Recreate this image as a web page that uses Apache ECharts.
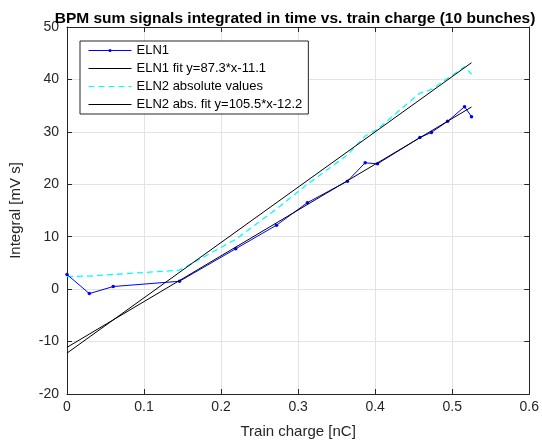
<!DOCTYPE html>
<html>
<head>
<meta charset="utf-8">
<script src="https://cdn.jsdelivr.net/npm/echarts@6/dist/echarts.min.js"></script>
<style>
  html, body { margin: 0; padding: 0; background: #fff; }
  #chart { width: 542px; height: 444px; }
</style>
</head>
<body>
<div id="chart"></div>
<script>
// train charge [nC]
const chargeX = [0, 0.029, 0.060, 0.146, 0.219, 0.272, 0.312, 0.364, 0.387, 0.403, 0.458, 0.473, 0.494, 0.516, 0.525];
// ELN1 integral [mV s]
const eln1Y = [2.8, -0.85, 0.5, 1.5, 7.7, 12.2, 16.5, 20.6, 24.1, 23.9, 28.9, 29.9, 32.0, 34.8, 32.9];
// ELN2 absolute values [mV s]
const eln2Y = [2.4, 2.5, 2.8, 3.6, 9.5, 15.3, 20.0, 25.6, 29.2, 30.5, 37.4, 38.1, 40.2, 42.4, 41.0];
// linear fits from the legend
const eln1Fit = { slope: 87.3, offset: -11.1 };
const eln2Fit = { slope: 105.5, offset: -12.2 };
// axes
const xTicks = [0, 0.1, 0.2, 0.3, 0.4, 0.5, 0.6];
const yTicks = [-20, -10, 0, 10, 20, 30, 40, 50];

const axisColor = '#262626';
const gridColor = '#e3e3e3';
const fontFamily = '"Liberation Sans", Arial, Helvetica, sans-serif';

const fitLine = (fit) => [
  [chargeX[0], fit.slope * chargeX[0] + fit.offset],
  [chargeX[chargeX.length - 1], fit.slope * chargeX[chargeX.length - 1] + fit.offset]
];
const pairs = (ys) => chargeX.map((x, i) => [x, ys[i]]);

const chart = echarts.init(document.getElementById('chart'));

const baseX = {
  type: 'value',
  min: xTicks[0],
  max: xTicks[xTicks.length - 1],
  interval: 0.1
};
const baseY = {
  type: 'value',
  min: yTicks[0],
  max: yTicks[yTicks.length - 1],
  interval: 10
};
const noDot = { opacity: 0 };

const option = {
  animation: false,
  backgroundColor: '#fff',
  title: {
    text: 'BPM sum signals integrated in time vs. train charge (10 bunches)',
    left: 290,
    textAlign: 'center',
    top: 6,
    textStyle: { fontFamily, fontSize: 15.5, fontWeight: 'bold', color: '#000' }
  },
  grid: { left: 66, right: 8, top: 27, bottom: 46 },
  legend: {
    orient: 'vertical',
    left: 80,
    top: 41,
    itemWidth: 43,
    itemHeight: 4,
    itemGap: 5,
    padding: [3, 6, 3, 8],
    borderColor: '#262626',
    borderWidth: 1,
    borderRadius: 0,
    backgroundColor: '#fff',
    lineStyle: { width: 1 },
    textStyle: { fontFamily, fontSize: 13, color: '#000' },
    data: [
      { name: 'ELN1' },
      { name: 'ELN1 fit y=87.3*x-11.1', itemStyle: noDot },
      { name: 'ELN2 absolute values', itemStyle: noDot },
      { name: 'ELN2 abs. fit y=105.5*x-12.2', itemStyle: noDot }
    ]
  },
  xAxis: [
    {
      ...baseX,
      name: 'Train charge [nC]',
      nameLocation: 'middle',
      nameGap: 30,
      nameTextStyle: { fontFamily, fontSize: 15, color: axisColor },
      axisLine: { onZero: false, lineStyle: { color: axisColor } },
      axisTick: { inside: true, length: 5, lineStyle: { color: axisColor } },
      axisLabel: {
        fontFamily, fontSize: 14, color: axisColor, margin: 6,
        formatter: (v) => String(Math.round(v * 10) / 10)
      },
      splitLine: { show: true, lineStyle: { color: gridColor } }
    },
    {
      ...baseX,
      position: 'top',
      axisLine: { onZero: false, lineStyle: { color: axisColor } },
      axisTick: { inside: true, length: 5, lineStyle: { color: axisColor } },
      axisLabel: { show: false },
      splitLine: { show: false }
    }
  ],
  yAxis: [
    {
      ...baseY,
      name: 'Integral [mV s]',
      nameLocation: 'middle',
      nameGap: 44,
      nameTextStyle: { fontFamily, fontSize: 15, color: axisColor },
      axisLine: { show: true, onZero: false, lineStyle: { color: axisColor } },
      axisTick: { show: true, inside: true, length: 5, lineStyle: { color: axisColor } },
      axisLabel: { fontFamily, fontSize: 14, color: axisColor, margin: 8 },
      splitLine: { show: true, lineStyle: { color: gridColor } }
    },
    {
      ...baseY,
      position: 'right',
      axisLine: { show: true, onZero: false, lineStyle: { color: axisColor } },
      axisTick: { show: true, inside: true, length: 5, lineStyle: { color: axisColor } },
      axisLabel: { show: false },
      splitLine: { show: false }
    }
  ],
  series: [
    {
      name: 'ELN1',
      type: 'line',
      data: pairs(eln1Y),
      symbol: 'circle',
      symbolSize: 3.5,
      lineStyle: { color: '#0000ff', width: 1 },
      itemStyle: { color: '#0000ff' },
      z: 3
    },
    {
      name: 'ELN1 fit y=87.3*x-11.1',
      type: 'line',
      data: fitLine(eln1Fit),
      symbol: 'none',
      lineStyle: { color: '#000', width: 1 },
      itemStyle: { color: '#000' },
      z: 4
    },
    {
      name: 'ELN2 absolute values',
      type: 'line',
      data: pairs(eln2Y),
      symbol: 'none',
      lineStyle: { color: '#00ffff', width: 1.3, type: [6, 4] },
      itemStyle: { color: '#00ffff' },
      z: 2
    },
    {
      name: 'ELN2 abs. fit y=105.5*x-12.2',
      type: 'line',
      data: fitLine(eln2Fit),
      symbol: 'none',
      lineStyle: { color: '#000', width: 1 },
      itemStyle: { color: '#000' },
      z: 4
    }
  ]
};

chart.setOption(option);
</script>
</body>
</html>
